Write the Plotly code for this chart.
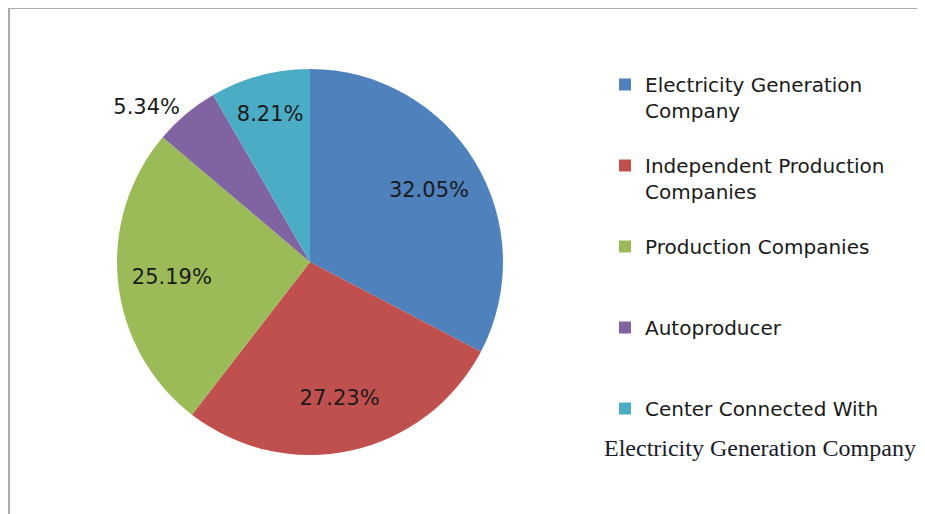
import plotly.graph_objects as go

labels = [
    "Electricity Generation<br>Company<br> ",
    "Independent Production<br>Companies<br> ",
    "Production Companies<br> <br> ",
    "Autoproducer<br> <br> ",
    "Center Connected With<br> <br> ",
]
values = [32.05, 27.23, 25.19, 5.34, 8.21]
value_text = ["32.05%", "27.23%", "25.19%", "5.34%", "8.21%"]
colors = ["#4F81BD", "#C0504D", "#9BBB59", "#8064A2", "#4BACC6"]
text_pos = ["inside", "inside", "inside", "outside", "inside"]

W, H = 925, 514
OFF = 8  # page body margin


def fx(x):
    return (x - OFF) / W


def fy(y):
    return 1 - (y - OFF) / H


dom = dict(x=[fx(117), fx(503)], y=[fy(455), fy(69)])

# visible pie
pie = go.Pie(
    labels=labels,
    values=values,
    textinfo="none",
    sort=False,
    direction="clockwise",
    rotation=0,
    marker=dict(colors=colors, line=dict(width=0)),
    domain=dom,
    hoverinfo="label+percent",
)

# transparent overlay carrying the percentage labels (places them further out)
label_pie = go.Pie(
    labels=labels,
    values=values,
    text=value_text,
    textinfo="text",
    textposition=text_pos,
    insidetextorientation="horizontal",
    hole=0.44,
    sort=False,
    direction="clockwise",
    rotation=0,
    marker=dict(colors=["rgba(0,0,0,0)"] * len(values), line=dict(width=0)),
    textfont=dict(family="DejaVu Sans", size=21, color="#1a1a1a"),
    domain=dom,
    showlegend=False,
    hoverinfo="skip",
)

fig = go.Figure([pie, label_pie])

fig.update_layout(
    width=W,
    height=H,
    margin=dict(l=0, r=0, t=0, b=0),
    paper_bgcolor="white",
    plot_bgcolor="white",
    showlegend=True,
    legend=dict(
        x=fx(605),
        y=fy(65),
        xanchor="left",
        yanchor="top",
        valign="top",
        font=dict(family="DejaVu Sans", size=20, color="#1a1a1a"),
        bgcolor="rgba(0,0,0,0)",
    ),
    shapes=[
        dict(
            type="rect",
            xref="paper",
            yref="paper",
            x0=fx(9),
            x1=1.0,
            y0=-0.05,
            y1=fy(8),
            line=dict(color="#ababab", width=2),
            fillcolor="rgba(0,0,0,0)",
            layer="below",
        )
    ],
    annotations=[
        dict(
            text="Electricity Generation Company",
            xref="paper",
            yref="paper",
            x=fx(602),
            y=fy(448),
            xanchor="left",
            yanchor="middle",
            showarrow=False,
            font=dict(family="Liberation Serif", size=24, color="#1a1a2a"),
        )
    ],
)

fig.write_html("out.html")
